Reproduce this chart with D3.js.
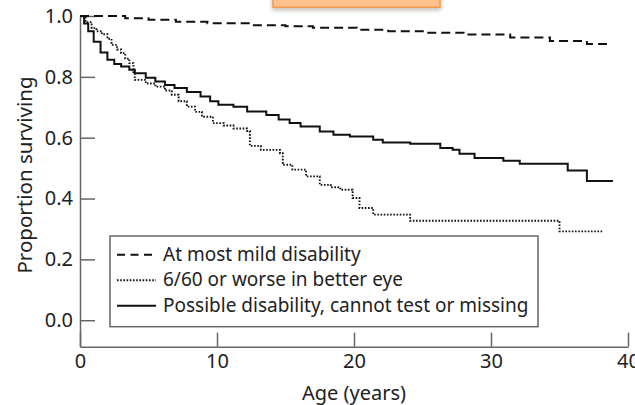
<!DOCTYPE html>
<html>
<head>
<meta charset="utf-8">
<script src="https://cdn.jsdelivr.net/npm/d3@7"></script>
<style>
  body { margin: 0; background: #fff; }
  text { font-family: "Noto Sans", sans-serif; fill: #222; }
</style>
</head>
<body>
<script>
// survival curves (age in years, proportion surviving)
var mildAge  = [0, 3.3, 5.0, 7.0, 9.3, 12.4, 15.0, 17.0, 20.2, 22.5, 25.3, 28.0, 31.4, 34.3, 37.0, 38.7];
var mildSurv = [1.0, 0.993, 0.988, 0.981, 0.976, 0.970, 0.966, 0.961, 0.955, 0.950, 0.945, 0.939, 0.929, 0.918, 0.908, 0.908];

var eyeAge  = [0, 0.4, 0.85, 1.2, 1.6, 2.0, 2.3, 2.7, 3.0, 3.3, 3.6, 3.9, 4.0, 4.8, 5.5, 6.2, 6.7, 7.2, 7.8, 8.4,
               8.9, 9.7, 10.5, 11.2, 12.2, 12.4, 13.2, 14.6, 14.8, 15.5, 16.5, 17.5, 18.3, 19.0, 19.9, 20.4, 21.4,
               24.1, 35.0, 38.2];
var eyeSurv = [1.0, 0.98, 0.96, 0.95, 0.94, 0.925, 0.905, 0.89, 0.878, 0.86, 0.845, 0.81, 0.79, 0.778, 0.768, 0.755,
               0.741, 0.72, 0.702, 0.685, 0.669, 0.648, 0.64, 0.630, 0.622, 0.573, 0.56, 0.549, 0.511, 0.495, 0.473,
               0.445, 0.437, 0.429, 0.402, 0.369, 0.347, 0.327, 0.292, 0.292];

var possAge  = [0, 0.3, 0.6, 1.0, 1.5, 2.0, 2.5, 3.0, 3.6, 4.0, 4.8, 5.5, 6.2, 6.9, 7.8, 8.8, 9.5, 10.1, 11.2, 12.2,
                13.6, 14.5, 15.3, 16.1, 17.5, 18.5, 19.7, 21.4, 22.1, 24.1, 26.3, 27.2, 27.7, 28.8, 30.9, 32.1,
                35.6, 37.0, 38.9];
var possSurv = [1.0, 0.975, 0.95, 0.915, 0.88, 0.856, 0.842, 0.834, 0.823, 0.812, 0.797, 0.785, 0.773, 0.763, 0.75,
                0.735, 0.72, 0.708, 0.702, 0.686, 0.675, 0.66, 0.648, 0.637, 0.62, 0.61, 0.604, 0.593, 0.584, 0.58,
                0.566, 0.56, 0.547, 0.533, 0.524, 0.514, 0.492, 0.458, 0.458];

var seriesNames = ["At most mild disability", "6/60 or worse in better eye",
                   "Possible disability, cannot test or missing"];
var xTicks = [0, 10, 20, 30, 40];
var yTicks = [0, 0.2, 0.4, 0.6, 0.8, 1.0];

// plot parameters
var width = 635, height = 405;
var plot = { left: 80, right: 628, top: 16, bottom: 346.7 };

var svg = d3.select("body")
            .append("svg")
            .attr("width", width)
            .attr("height", height);

var x = d3.scaleLinear()
          .domain([0, 40])
          .range([plot.left, plot.right]);
var y = d3.scaleLinear()
          .domain([-0.087, 1])
          .range([plot.bottom, plot.top]);

// orange tab cut off at the top of the picture
var defs = svg.append("defs");
var shadow = defs.append("filter").attr("id", "shadow")
                 .attr("x", "-10%").attr("y", "-50%")
                 .attr("width", "120%").attr("height", "250%");
shadow.append("feDropShadow")
      .attr("dx", 0).attr("dy", 2)
      .attr("stdDeviation", 2)
      .attr("flood-color", "#000")
      .attr("flood-opacity", 0.3);
svg.append("rect")
   .attr("x", 273).attr("y", -10)
   .attr("width", 167).attr("height", 17.3)
   .attr("fill", "#ffc08c")
   .attr("stroke", "#f29a4a")
   .attr("stroke-width", 1.5)
   .attr("filter", "url(#shadow)");

// axes
var xAxis = d3.axisBottom(x)
              .tickValues(xTicks)
              .tickSizeInner(-14)
              .tickSizeOuter(0)
              .tickPadding(7);
var yAxis = d3.axisLeft(y)
              .tickValues(yTicks)
              .tickFormat(d3.format(".1f"))
              .tickSizeInner(-15)
              .tickSizeOuter(0)
              .tickPadding(7);

var gx = svg.append("g")
            .attr("transform", "translate(" + [0, plot.bottom] + ")")
            .call(xAxis);
var gy = svg.append("g")
            .attr("transform", "translate(" + [plot.left, 0] + ")")
            .call(yAxis);

[gx, gy].forEach(function(g) {
  g.select(".domain").attr("stroke", "#666").attr("stroke-width", 1.5);
  g.selectAll(".tick line").attr("stroke", "#666").attr("stroke-width", 1.5);
  g.selectAll(".tick text")
   .attr("fill", "#222")
   .style("font-family", "\"Noto Sans\", sans-serif")
   .style("font-size", "20px");
});

// axis titles
svg.append("text")
   .attr("transform", "translate(" + [32, 175] + ") rotate(-90)")
   .style("text-anchor", "middle")
   .style("font-size", "20.5px")
   .text("Proportion surviving");
svg.append("text")
   .attr("x", x(20))
   .attr("y", 400)
   .style("text-anchor", "middle")
   .style("font-size", "20px")
   .text("Age (years)");

// curves
var styles = [
  { dash: "9,5", width: 2 },
  { dash: "1.6,1.6", width: 1.9 },
  { dash: null, width: 2 }
];
var curves = [
  d3.zip(mildAge, mildSurv),
  d3.zip(eyeAge, eyeSurv),
  d3.zip(possAge, possSurv)
];

var line = d3.line()
             .x(function(d) { return x(d[0]); })
             .y(function(d) { return y(d[1]); })
             .curve(d3.curveStepAfter);

svg.selectAll(".curve")
   .data(curves)
   .enter()
   .append("path")
   .attr("class", "curve")
   .attr("d", line)
   .attr("fill", "none")
   .attr("stroke", "#111")
   .attr("stroke-width", function(d, i) { return styles[i].width; })
   .attr("stroke-dasharray", function(d, i) { return styles[i].dash; });

// legend
var legend = svg.append("g");
legend.append("rect")
      .attr("x", 110).attr("y", 236)
      .attr("width", 428).attr("height", 90.7)
      .attr("fill", "#fff")
      .attr("stroke", "#666")
      .attr("stroke-width", 1.5);

var rows = legend.selectAll(".row")
                 .data(seriesNames)
                 .enter()
                 .append("g")
                 .attr("class", "row")
                 .attr("transform", function(d, i) {
                   return "translate(" + [0, 260.7 + i * 25.5] + ")";
                 });
rows.append("line")
    .attr("x1", 117).attr("x2", 156)
    .attr("y1", -6).attr("y2", -6)
    .attr("stroke", "#111")
    .attr("stroke-width", function(d, i) { return styles[i].width; })
    .attr("stroke-dasharray", function(d, i) { return styles[i].dash ? (i === 0 ? "8,5.5" : "1.6,1.6") : null; });
rows.append("text")
    .attr("x", 163)
    .style("font-size", "19px")
    .text(function(d) { return d; });
</script>
</body>
</html>
